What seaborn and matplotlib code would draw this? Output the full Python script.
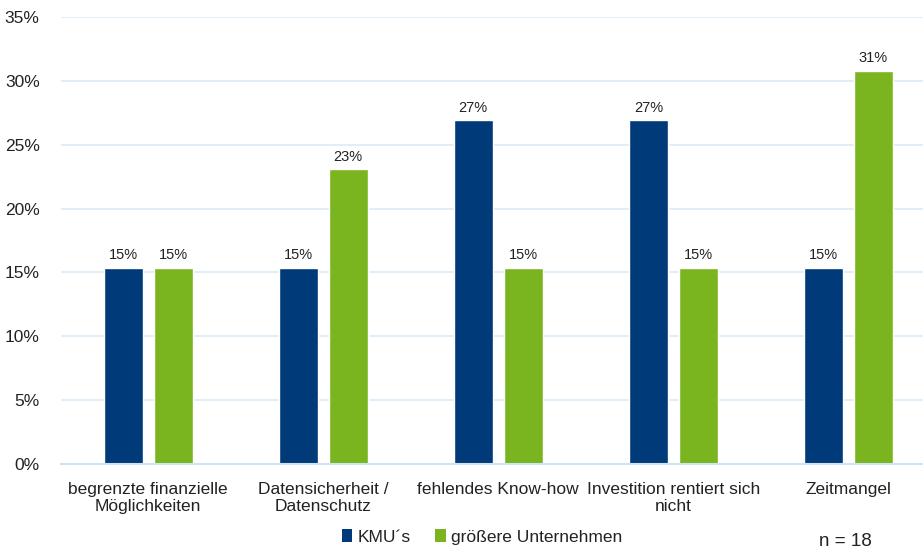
import matplotlib
matplotlib.use("Agg")
import matplotlib.pyplot as plt
import seaborn as sns
import pandas as pd
from matplotlib.ticker import PercentFormatter, FixedLocator
from matplotlib.patches import Patch

categories = [
    "begrenzte finanzielle\nMöglichkeiten",
    "Datensicherheit /\nDatenschutz",
    "fehlendes Know-how",
    "Investition rentiert sich\nnicht",
    "Zeitmangel",
]
series_names = ["KMU´s", "größere Unternehmen"]
kmu = [0.1538, 0.1538, 0.2692, 0.2692, 0.1538]
gross = [0.1538, 0.2308, 0.1538, 0.1538, 0.3077]
colors = ["#003A78", "#7AB41E"]
note = "n = 18"

df = pd.DataFrame({
    "Kategorie": categories * 2,
    "Gruppe": [series_names[0]] * len(categories) + [series_names[1]] * len(categories),
    "Wert": kmu + gross,
})

sns.set_theme(style="white")
plt.rcParams["font.family"] = ["Liberation Sans", "DejaVu Sans"]

fig = plt.figure(figsize=(9.23, 5.51), dpi=100)
ax = fig.add_axes([60.5 / 923, 87 / 551, (923 - 60.5) / 923, (464 - 17) / 551])

sns.barplot(data=df, x="Kategorie", y="Wert", hue="Gruppe", order=categories,
            hue_order=series_names, palette=colors, width=0.571, gap=0.22,
            saturation=1, ax=ax, legend=False)

for cont in ax.containers:
    ax.bar_label(cont, labels=[f"{b.get_height():.0%}" for b in cont],
                 padding=4, fontsize=10.5, color="#222222")

ax.set_ylim(0, 0.35)
ax.set_xlim(-0.5, 4.426)
ax.yaxis.set_major_locator(FixedLocator([i * 0.05 for i in range(8)]))
ax.yaxis.set_major_formatter(PercentFormatter(1.0, decimals=0))
ax.grid(axis="y", color="#DAEBF8", linewidth=1.2)
ax.set_axisbelow(True)
for s in ["top", "right", "left"]:
    ax.spines[s].set_visible(False)
ax.spines["bottom"].set_color("#CFE3F3")
ax.spines["bottom"].set_linewidth(1.5)
ax.set_xlabel("")
ax.set_ylabel("")
ax.tick_params(axis="y", labelsize=12.5, labelcolor="#222222", length=0, pad=15)
ax.tick_params(axis="x", labelsize=12.5, labelcolor="#222222", length=0, pad=13)

handles = [Patch(facecolor=c, edgecolor="none") for c in colors]
fig.legend(handles, series_names, loc="center", bbox_to_anchor=(482 / 923, 1 - 537 / 551),
           ncol=2, frameon=False, fontsize=12.5, handlelength=0.6, handleheight=0.75,
           handletextpad=0.3, columnspacing=1.4, labelcolor="#222222")
fig.text(845 / 923, 1 - 542 / 551, note, ha="center", va="center", fontsize=13.5, color="#222222")

fig.savefig("out.png", dpi=100)
